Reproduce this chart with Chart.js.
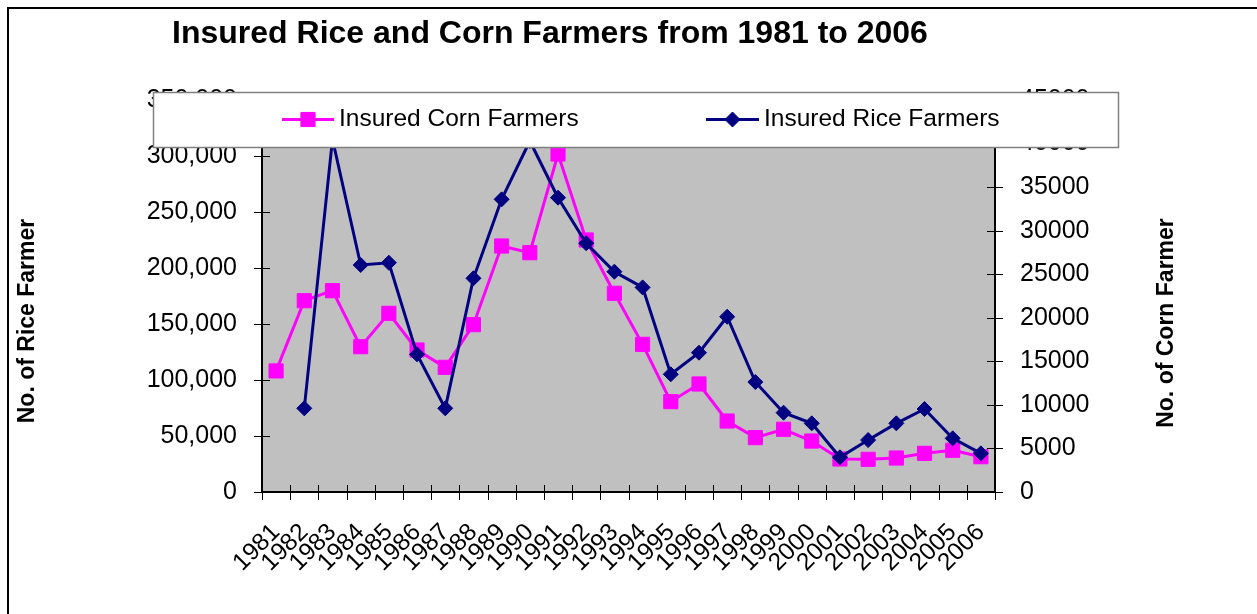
<!DOCTYPE html>
<html>
<head>
<meta charset="utf-8">
<script src="https://cdn.jsdelivr.net/npm/chart.js@4.4.1/dist/chart.umd.min.js"></script>
<style>
  html, body { margin: 0; padding: 0; background: #fff; }
  #wrap { width: 1257px; height: 614px; }
</style>
</head>
<body>
<div id="wrap"><canvas id="chart" width="1257" height="614"></canvas></div>
<script>
// data
const years = ['1981','1982','1983','1984','1985','1986','1987','1988','1989','1990','1991','1992','1993',
               '1994','1995','1996','1997','1998','1999','2000','2001','2002','2003','2004','2005','2006']
const riceFarmers = [null, 74700, 315000, 202700, 204700, 122900, 74700, 190800, 261300, 313400, 262800, 222100, 196700,
                     182700, 105100, 124400, 156500, 98200, 70800, 61300, 31000, 46400, 61300, 74100, 47900, 34500]
const cornFarmers = [13900, 21960, 23110, 16680, 20510, 16300, 14310, 19210, 28240, 27470, 38800, 28930, 22810,
                     16950, 10370, 12400, 8150, 6240, 7200, 5850, 3790, 3750, 3900, 4440, 4790, 4050]
const riceTicks = { min: 0, max: 350000, step: 50000 }
const cornTicks = { min: 0, max: 45000, step: 5000 }

const chartTitle = 'Insured Rice and Corn Farmers from 1981 to 2006'
const leftTitle = 'No. of Rice Farmer'
const rightTitle = 'No. of Corn Farmer'

const PINK = '#FF00FF'
const NAVY = '#000080'
const FONT = '"Liberation Sans", Arial, sans-serif'

Chart.defaults.font.family = FONT
Chart.defaults.color = '#000'

// grey plot area, border, title, axis titles, tick marks, legend
const decor = {
  id: 'decor',
  beforeDraw(chart) {
    const ctx = chart.ctx
    const a = chart.chartArea
    ctx.save()
    ctx.fillStyle = '#fff'
    ctx.fillRect(0, 0, chart.width, chart.height)
    ctx.fillStyle = '#C0C0C0'
    ctx.fillRect(a.left, a.top, a.right - a.left, a.bottom - a.top)
    ctx.restore()
  },
  afterDraw(chart) {
    const ctx = chart.ctx
    const a = chart.chartArea
    const x = chart.scales.x, yl = chart.scales.y, yr = chart.scales.y1
    ctx.save()

    // tick marks crossing the axes
    ctx.strokeStyle = '#000'
    ctx.lineWidth = 1
    ctx.beginPath()
    yl.ticks.forEach(t => {
      const p = Math.round(yl.getPixelForValue(t.value)) + 0.5
      ctx.moveTo(a.left - 8, p); ctx.lineTo(a.left + 8, p)
    })
    yr.ticks.forEach(t => {
      const p = Math.round(yr.getPixelForValue(t.value)) + 0.5
      ctx.moveTo(a.right - 8, p); ctx.lineTo(a.right + 8, p)
    })
    for (let i = 0; i <= years.length; i++) {
      const p = Math.round(x.getPixelForValue(i - 0.5)) + 0.5
      ctx.moveTo(p, a.bottom - 7); ctx.lineTo(p, a.bottom + 8)
    }
    ctx.stroke()

    // outer frame
    ctx.lineWidth = 2
    ctx.strokeStyle = '#000'
    ctx.strokeRect(8, 8, 1400, 800)

    // title
    ctx.fillStyle = '#000'
    ctx.textAlign = 'center'
    ctx.textBaseline = 'alphabetic'
    ctx.font = 'bold 32px ' + FONT
    ctx.fillText(chartTitle, 550, 43)

    // axis titles
    ctx.font = 'bold 23px ' + FONT
    ctx.textBaseline = 'middle'
    ctx.save()
    ctx.translate(28, 321)
    ctx.rotate(-Math.PI / 2)
    ctx.fillText(leftTitle, 0, 0)
    ctx.restore()
    ctx.save()
    ctx.translate(1167, 323)
    ctx.rotate(-Math.PI / 2)
    ctx.fillText(rightTitle, 0, 0)
    ctx.restore()

    // legend box over the top of the plot
    ctx.fillStyle = '#fff'
    ctx.fillRect(153, 92, 965, 55)
    ctx.strokeStyle = '#808080'
    ctx.lineWidth = 1.5
    ctx.strokeRect(153.5, 92.5, 965, 55)

    const items = [
      { ds: chart.data.datasets[1], x0: 282, x1: 334, tx: 339 },
      { ds: chart.data.datasets[0], x0: 706, x1: 759, tx: 764 }
    ]
    const ly = 119.5
    items.forEach(it => {
      const ds = it.ds
      const cx = (it.x0 + it.x1) / 2
      ctx.strokeStyle = ds.borderColor
      ctx.lineWidth = 3
      ctx.beginPath()
      ctx.moveTo(it.x0, ly); ctx.lineTo(it.x1, ly)
      ctx.stroke()
      ctx.fillStyle = ds.borderColor
      ctx.beginPath()
      const r = ds.pointRadius
      if (ds.pointStyle === 'rect') {
        const s = r * Math.SQRT1_2
        ctx.rect(cx - s, ly - s, 2 * s, 2 * s)
      } else {
        ctx.moveTo(cx, ly - r); ctx.lineTo(cx + r, ly); ctx.lineTo(cx, ly + r); ctx.lineTo(cx - r, ly); ctx.closePath()
      }
      ctx.fill()
      ctx.lineWidth = 1
      ctx.stroke()
      ctx.fillStyle = '#000'
      ctx.textAlign = 'left'
      ctx.textBaseline = 'middle'
      ctx.font = '24.5px ' + FONT
      ctx.fillText(ds.label, it.tx, ly)
    })
    ctx.restore()
  }
}

const chart = new Chart(document.getElementById('chart'), {
  type: 'line',
  data: {
    labels: years,
    datasets: [
      {
        label: 'Insured Rice Farmers',
        data: riceFarmers,
        yAxisID: 'y',
        borderColor: NAVY,
        backgroundColor: NAVY,
        borderWidth: 3,
        pointStyle: 'rectRot',
        pointRadius: 7.5,
        pointBorderWidth: 1,
        pointBackgroundColor: NAVY,
        pointBorderColor: NAVY,
        tension: 0,
        order: 0
      },
      {
        label: 'Insured Corn Farmers',
        data: cornFarmers,
        yAxisID: 'y1',
        borderColor: PINK,
        backgroundColor: PINK,
        borderWidth: 3,
        pointStyle: 'rect',
        pointRadius: 10,
        pointBorderWidth: 1,
        pointBackgroundColor: PINK,
        pointBorderColor: PINK,
        tension: 0,
        order: 1
      }
    ]
  },
  options: {
    responsive: false,
    animation: false,
    events: [],
    layout: { padding: { left: 10, top: 100, right: 0, bottom: 0 } },
    plugins: {
      legend: { display: false },
      title: { display: false },
      tooltip: { enabled: false }
    },
    scales: {
      x: {
        offset: true,
        grid: { display: false, drawTicks: false },
        border: { color: '#000', width: 2 },
        ticks: {
          autoSkip: false,
          minRotation: 45,
          maxRotation: 45,
          padding: 26,
          font: { size: 24.5 }
        },
        afterFit(s) { s.height = 122 }
      },
      y: {
        position: 'left',
        min: riceTicks.min,
        max: riceTicks.max,
        grid: { display: false, drawTicks: false },
        border: { color: '#000', width: 2 },
        ticks: {
          stepSize: riceTicks.step,
          padding: 25,
          font: { size: 25 },
          callback: v => v.toLocaleString('en-US')
        },
        afterFit(s) { s.width = 252 }
      },
      y1: {
        position: 'right',
        min: cornTicks.min,
        max: cornTicks.max,
        grid: { display: false, drawTicks: false },
        border: { color: '#000', width: 2 },
        ticks: {
          stepSize: cornTicks.step,
          padding: 25,
          font: { size: 25 },
          callback: v => String(v)
        },
        afterFit(s) { s.width = 262 }
      }
    }
  },
  plugins: [decor]
})
</script>
</body>
</html>
